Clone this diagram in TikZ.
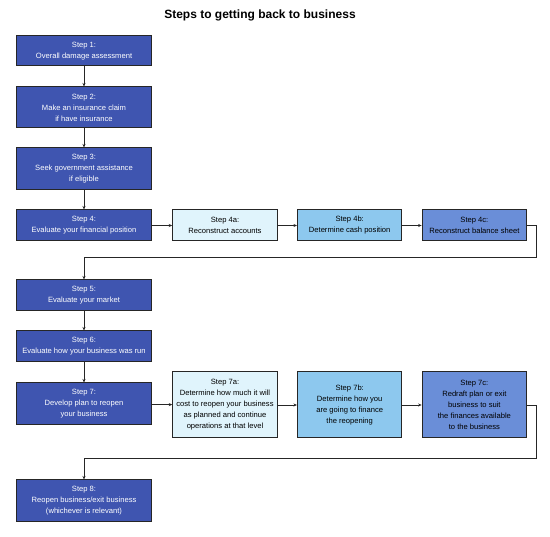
\documentclass[tikz,border=0pt]{standalone}
\usepackage{fontspec}
\setmainfont{Liberation Sans}
\usetikzlibrary{arrows.meta}
\definecolor{mainblue}{HTML}{3F55B0}
\definecolor{paleblue}{HTML}{E0F4FC}
\definecolor{midblue}{HTML}{8DC8EE}
\definecolor{deepblue}{HTML}{6A8ED8}
\tikzset{
  box/.style={draw=black!85, line width=1pt, rectangle, align=center, inner sep=0pt,
    font=\fontsize{7.6}{11}\selectfont},
  mainbox/.style={box, fill=mainblue, text=white, minimum width=135pt},
  subbox/.style={box, text=black, minimum width=104.5pt},
  conn/.style={draw=black!85, line width=0.8pt},
  arr/.style={conn, -{Stealth[length=3.5pt,width=3pt]}}
}
\begin{document}
\begin{tikzpicture}[x=1pt,y=-1pt]
\useasboundingbox (0,0) rectangle (550,537);
\node[font=\bfseries\fontsize{12}{14}\selectfont] (title) at (260,15) {Steps to getting back to business};

\node[mainbox, minimum height=30pt] (s1) at (84,51) {Step 1:\\Overall damage assessment};
\node[mainbox, minimum height=41pt] (s2) at (84,107.5) {Step 2:\\Make an insurance claim\\if have insurance};
\node[mainbox, minimum height=42pt] (s3) at (84,169) {Step 3:\\Seek government assistance\\if eligible};
\node[mainbox, minimum height=31pt] (s4) at (84,225.5) {Step 4:\\Evaluate your financial position};
\node[subbox, fill=paleblue, minimum height=31pt] (s4a) at (225,225.5) {Step 4a:\\Reconstruct accounts};
\node[subbox, fill=midblue, minimum height=31pt] (s4b) at (349.7,225.5) {Step 4b:\\Determine cash position};
\node[subbox, fill=deepblue, minimum height=31pt] (s4c) at (474.4,225.5) {Step 4c:\\Reconstruct balance sheet};
\node[mainbox, minimum height=31pt] (s5) at (84,295.5) {Step 5:\\Evaluate your market};
\node[mainbox, minimum height=31pt] (s6) at (84,346.5) {Step 6:\\Evaluate how your business was run};
\node[mainbox, minimum height=42pt] (s7) at (84,404) {Step 7:\\Develop plan to reopen\\your business};
\node[subbox, fill=paleblue, minimum height=66pt] (s7a) at (225,405) {Step 7a:\\Determine how much it will\\cost to reopen your business\\as planned and continue\\operations at that level};
\node[subbox, fill=midblue, minimum height=66pt] (s7b) at (349.7,405) {Step 7b:\\Determine how you\\are going to finance\\the reopening};
\node[subbox, fill=deepblue, minimum height=66pt] (s7c) at (474.4,405) {Step 7c:\\Redraft plan or exit\\business to suit\\the finances available\\to the business};
\node[mainbox, minimum height=42pt] (s8) at (84,501) {Step 8:\\Reopen business/exit business\\(whichever is relevant)};

\coordinate (c4r) at (536,257);
\coordinate (c4l) at (84,257);
\coordinate (c7r) at (536,458);
\coordinate (c7l) at (84,458);

\draw[arr] (s1) -- (s2);
\draw[arr] (s2) -- (s3);
\draw[arr] (s3) -- (s4);
\draw[arr] (s4) -- (s4a);
\draw[arr] (s4a) -- (s4b);
\draw[arr] (s4b) -- (s4c);
\draw[arr] (s4c.east) -| (c4r) -- (c4l) -- (s5);
\draw[arr] (s5) -- (s6);
\draw[arr] (s6) -- (s7);
\draw[arr] (s7) -- (s7a);
\draw[arr] (s7a) -- (s7b);
\draw[arr] (s7b) -- (s7c);
\draw[arr] (s7c.east) -| (c7r) -- (c7l) -- (s8);
\end{tikzpicture}
\end{document}
